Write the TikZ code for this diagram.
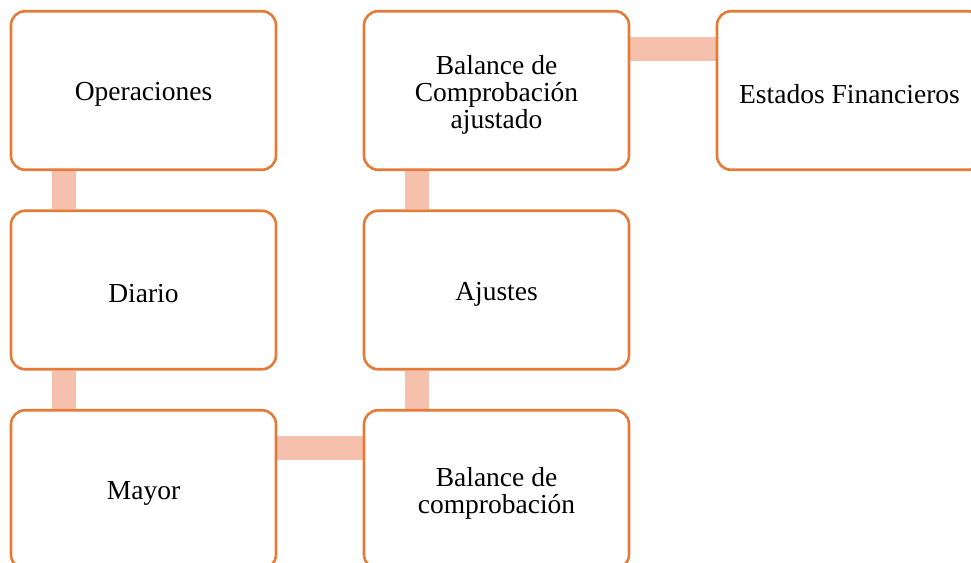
\documentclass[tikz,border=0pt]{standalone}
\usepackage{fontspec}
\setmainfont{Liberation Serif}
\usetikzlibrary{backgrounds}
\definecolor{naranja}{RGB}{228,123,56}
\definecolor{salmon}{RGB}{245,192,172}
\begin{document}
\begin{tikzpicture}[x=1pt,y=-1pt,
		caja/.style={draw=naranja,line width=2.6pt,rounded corners=14pt,fill=white,
			minimum width=265pt,minimum height=158.5pt},
		texto/.style={yshift=-4pt,align=center,font=\fontsize{27.5}{27}\selectfont},
		barra/.style={draw=salmon,line width=24pt}]
			\useasboundingbox (0,0) rectangle (971,562);
			\node[caja,label={[texto]center:Operaciones}] (ope) at (143.5,90.5) {};
			\node[caja,label={[texto]center:Diario}] (dia) at (143.5,290) {};
			\node[caja,label={[texto]center:Mayor}] (may) at (143.5,489.5) {};
			\node[caja,label={[texto]center:Balance de\\comprobación}] (bdc) at (496.5,489.5) {};
			\node[caja,label={[texto]center:Ajustes}] (aju) at (496.5,290) {};
			\node[caja,label={[texto]center:Balance de\\Comprobación\\ajustado}] (bca) at (496.5,90.5) {};
			\node[caja,label={[texto]center:Estados Financieros}] (est) at (849.5,90.5) {};
			\begin{scope}[on background layer]
			\draw[barra] ([xshift=54pt]ope.south west) to ([xshift=54pt]dia.north west);
			\draw[barra] ([xshift=54pt]dia.south west) to ([xshift=54pt]may.north west);
			\draw[barra] ([yshift=-39pt]may.north east) to ([yshift=-39pt]bdc.north west);
			\draw[barra] ([xshift=54pt]bdc.north west) to ([xshift=54pt]aju.south west);
			\draw[barra] ([xshift=54pt]aju.north west) to ([xshift=54pt]bca.south west);
			\draw[barra] ([yshift=-39pt]bca.north east) to ([yshift=-39pt]est.north west);
			\end{scope}
		\end{tikzpicture}
\end{document}
